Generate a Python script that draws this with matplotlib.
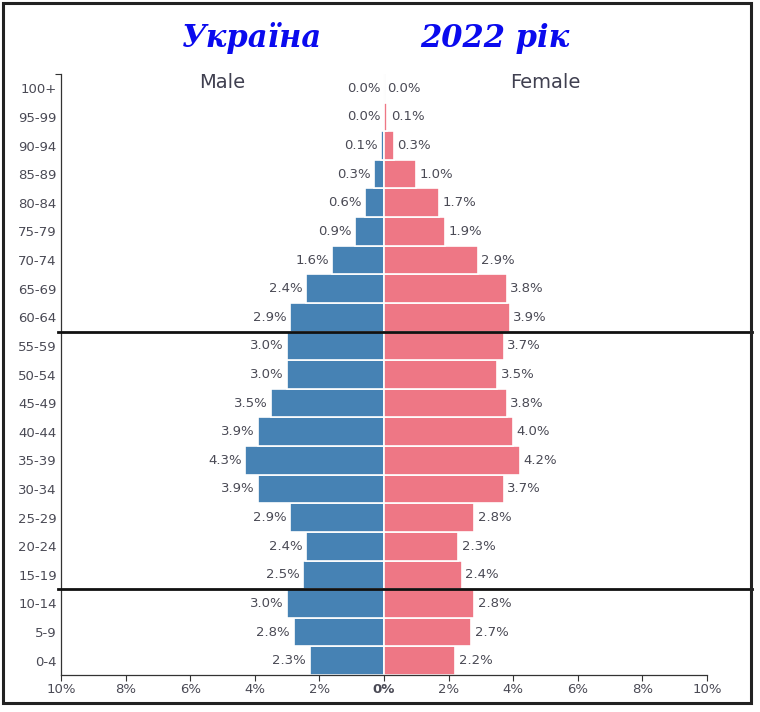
import matplotlib
matplotlib.use("Agg")
import matplotlib.pyplot as plt
from matplotlib.patches import Rectangle
from matplotlib.transforms import blended_transform_factory

age_groups = ["0-4", "5-9", "10-14", "15-19", "20-24", "25-29", "30-34", "35-39",
              "40-44", "45-49", "50-54", "55-59", "60-64", "65-69", "70-74", "75-79",
              "80-84", "85-89", "90-94", "95-99", "100+"]
male = [2.3, 2.8, 3.0, 2.5, 2.4, 2.9, 3.9, 4.3, 3.9, 3.5, 3.0, 3.0, 2.9, 2.4, 1.6,
        0.9, 0.6, 0.3, 0.1, 0.0, 0.0]
female = [2.2, 2.7, 2.8, 2.4, 2.3, 2.8, 3.7, 4.2, 4.0, 3.8, 3.5, 3.7, 3.9, 3.8, 2.9,
          1.9, 1.7, 1.0, 0.3, 0.1, 0.0]
x_ticks = [-10, -8, -6, -4, -2, 0, 2, 4, 6, 8, 10]
x_tick_labels = ["10%", "8%", "6%", "4%", "2%", "0%", "2%", "4%", "6%", "8%", "10%"]
title_left = "Україна"
title_right = "2022 рік"

male_color = "#4682b4"
female_color = "#ee7785"
text_color = "#4a4a55"

fig = plt.figure(figsize=(7.6, 7.12), dpi=100)
fig.patch.set_facecolor("white")
ax = fig.add_axes([61/760, 1-675/712, (707-61)/760, (675-74)/712])

y = list(range(len(age_groups)))
ax.barh(y, [-v for v in male], height=1.0, color=male_color, edgecolor="white", linewidth=1.2)
ax.barh(y, female, height=1.0, color=female_color, edgecolor="white", linewidth=1.2)

for yi, m, f in zip(y, male, female):
    ax.annotate(f"{m:.1f}%", (-m, yi), xytext=(-2.5, 0), textcoords="offset points",
                ha="right", va="center", fontsize=9.5, color=text_color)
    ax.annotate(f"{f:.1f}%", (f, yi), xytext=(2.5, 0), textcoords="offset points",
                ha="left", va="center", fontsize=9.5, color=text_color)

ax.axvline(0, color="#cccccc", lw=0.8, zorder=0)

ax.set_xlim(-10, 10)
ax.set_ylim(-0.5, 20.5)
ax.set_yticks(y)
ax.set_yticklabels(age_groups, fontsize=9.5, color=text_color)
ax.set_yticks([20.5], minor=True)
ax.set_xticks(x_ticks)
ax.set_xticklabels(x_tick_labels, fontsize=9.5, color=text_color)
for lbl in ax.get_xticklabels():
    if lbl.get_text() == "0%":
        lbl.set_fontweight("bold")
ax.tick_params(axis="x", colors="#333333", length=4, width=0.8, pad=2, labelcolor=text_color)
ax.tick_params(axis="y", which="major", length=0, pad=3, labelcolor=text_color)
ax.tick_params(axis="y", which="minor", length=4, width=0.8, color="#333333")
for s in ["top", "right"]:
    ax.spines[s].set_visible(False)
for s in ["left", "bottom"]:
    ax.spines[s].set_color("#333333")
    ax.spines[s].set_linewidth(0.9)
ax.set_facecolor("none")

ax.text(-5, 20.2, "Male", ha="center", va="center", fontsize=14, color="#404050")
ax.text(5, 20.2, "Female", ha="center", va="center", fontsize=14, color="#404050")

# dividing lines
tr = blended_transform_factory(fig.transFigure, ax.transData)
for yy in [11.5, 2.5]:
    ax.plot([58/760, 752/760], [yy, yy], transform=tr, color="#111111", lw=2.0,
            clip_on=False, zorder=5)

# titles
fig.text(252/760, 1-38/712, title_left, ha="center", va="center", fontsize=22,
         fontweight="bold", fontstyle="italic", family="DejaVu Serif", color="#0a0aee")
fig.text(495/760, 1-38/712, title_right, ha="center", va="center", fontsize=22,
         fontweight="bold", fontstyle="italic", family="DejaVu Serif", color="#0a0aee")

# frame
fig.patches.append(Rectangle((3/760, 1-703/712), (751-3)/760, (703-3)/712,
                             transform=fig.transFigure, fill=False, edgecolor="#222222",
                             lw=2.2, zorder=10))

fig.savefig("out.png", dpi=100, facecolor="white")
